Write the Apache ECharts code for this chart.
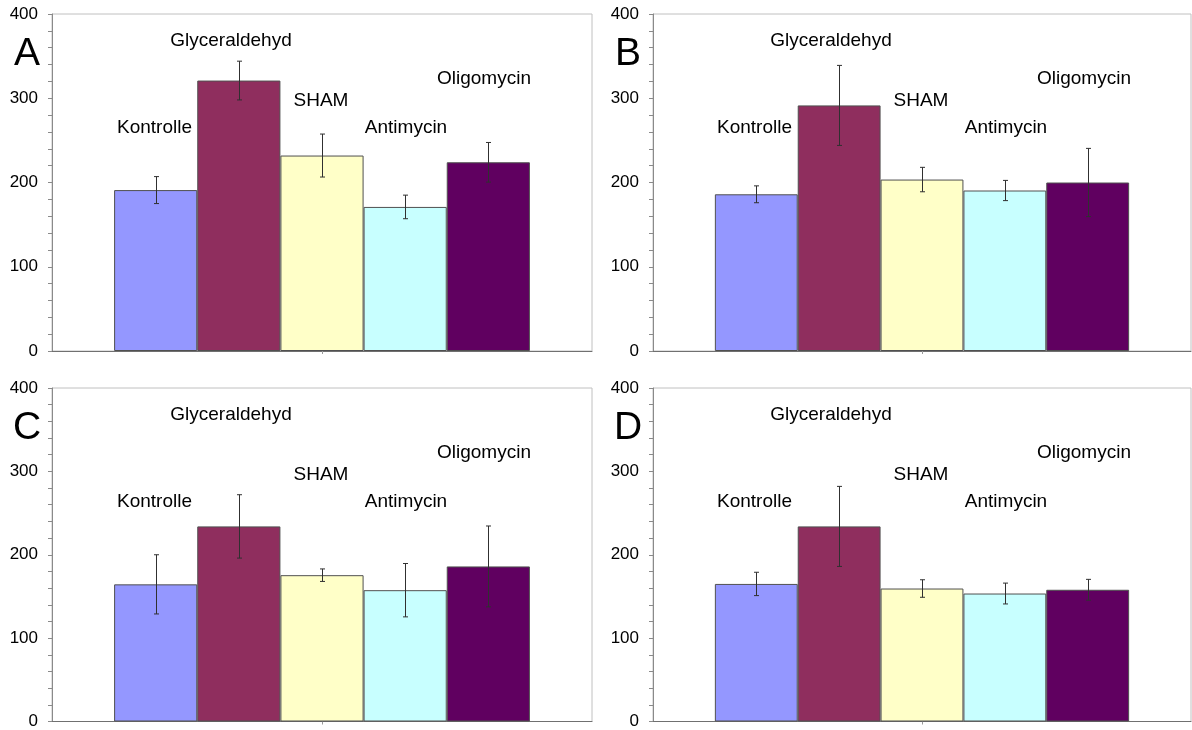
<!DOCTYPE html>
<html>
<head>
<meta charset="utf-8">
<script src="https://cdn.jsdelivr.net/npm/echarts@6/dist/echarts.min.js"></script>
<style>
html,body{margin:0;padding:0;background:#fff;}
#chart{width:1192px;height:730px;}
</style>
</head>
<body>
<div id="chart"></div>
<script>
// ---- data ----
var groups = ['Kontrolle', 'Glyceraldehyd', 'SHAM', 'Antimycin', 'Oligomycin'];
var panels = ['A', 'B', 'C', 'D'];
var yTicks = [0, 100, 200, 300, 400];

var meanA = [191, 321, 232, 171, 224];
var errA  = [16, 23, 25.5, 14, 23.5];
var meanB = [186, 291.5, 203.5, 190.5, 200];
var errB  = [10, 47.5, 14.5, 12, 40.5];
var meanC = [164.5, 234, 175.5, 157.5, 186];
var errC  = [35.5, 38, 7.5, 32, 48.5];
var meanD = [165, 234, 159.5, 153.5, 158];
var errD  = [14, 48, 10.5, 12.5, 12.5];

// ---- styling / layout ----
var colors = ['#9497FF', '#8F2E5E', '#FFFFC8', '#C8FFFF', '#600060'];
var grids = [
  {left: 52, top: 14, width: 540, height: 337},
  {left: 653, top: 14, width: 538, height: 337},
  {left: 52, top: 388, width: 540, height: 335},
  {left: 653, top: 388, width: 538, height: 335}
];
var GAP = 0.23;
var FONT = '"Liberation Sans", Arial, sans-serif';
// label offsets relative to grid center-x / grid top
var labelDx = [-167.5, -91, -1, 84, 162];
var labelDy = [114, 26.5, 87, 114, 65];

var means = [meanA, meanB, meanC, meanD];
var errs = [errA, errB, errC, errD];

var option = {
  animation: false,
  backgroundColor: '#fff',
  grid: [], xAxis: [], yAxis: [], series: [], graphic: []
};

grids.forEach(function (g, p) {
  option.grid.push({left: g.left, top: g.top, width: g.width, height: g.height,
    show: true, borderColor: '#c0c0c0', borderWidth: 1, backgroundColor: 'transparent'});
  option.xAxis.push({
    type: 'category', gridIndex: p, data: [''],
    axisLine: {lineStyle: {color: '#707070', width: 1}},
    axisTick: {show: true, alignWithLabel: true, length: 3, lineStyle: {color: '#999'}},
    axisLabel: {show: false}, splitLine: {show: false}
  });
  option.yAxis.push({
    type: 'value', gridIndex: p, min: yTicks[0], max: yTicks[yTicks.length - 1], interval: 100,
    axisLine: {show: true, lineStyle: {color: '#8a8a8a', width: 1}},
    axisTick: {show: true, length: 4, lineStyle: {color: '#8a8a8a'}},
    minorTick: {show: true, splitNumber: 5, length: 4, lineStyle: {color: '#8a8a8a'}},
    axisLabel: {color: '#000', fontSize: 17, fontFamily: FONT, margin: 14},
    splitLine: {show: false}
  });
  groups.forEach(function (name, i) {
    option.series.push({
      type: 'bar', name: name, xAxisIndex: p, yAxisIndex: p,
      data: [means[p][i]],
      barGap: '0%', barCategoryGap: (GAP * 100) + '%',
      itemStyle: {color: colors[i], borderColor: '#505050', borderWidth: 1},
      z: 2
    });
  });
  var errData = groups.map(function (n, i) { return [0, means[p][i], errs[p][i], i]; });
  option.series.push({
    type: 'custom', xAxisIndex: p, yAxisIndex: p, z: 5,
    encode: {x: 0, y: 1},
    data: errData,
    renderItem: function (params, api) {
      var m = api.value(1), e = api.value(2), idx = api.value(3);
      var c = api.coord([0, m]);
      var band = api.size([1, 0])[0];
      var bw = band * (1 - GAP) / groups.length;
      var x = Math.round(c[0] + (idx - (groups.length - 1) / 2) * bw) + 0.5;
      var yt = api.coord([0, m + e])[1];
      var yb = api.coord([0, m - e])[1];
      var st = {stroke: '#303030', lineWidth: 1};
      return {type: 'group', children: [
        {type: 'line', shape: {x1: x, y1: yt, x2: x, y2: yb}, style: st},
        {type: 'line', shape: {x1: x - 2.5, y1: yt, x2: x + 2.5, y2: yt}, style: st},
        {type: 'line', shape: {x1: x - 2.5, y1: yb, x2: x + 2.5, y2: yb}, style: st}
      ]};
    }
  });
  var cx = g.left + g.width / 2;
  groups.forEach(function (name, i) {
    option.graphic.push({
      type: 'text', x: cx + labelDx[i], y: g.top + labelDy[i], z: 10,
      style: {text: name, fill: '#000', font: '19px ' + FONT, align: 'center', verticalAlign: 'middle'}
    });
  });
  option.graphic.push({
    type: 'text', x: g.left - 25, y: g.top + 40, z: 10,
    style: {text: panels[p], fill: '#000', font: '39px ' + FONT, align: 'center', verticalAlign: 'middle'}
  });
});

var chart = echarts.init(document.getElementById('chart'), null, {renderer: 'canvas'});
chart.setOption(option);
</script>
</body>
</html>
